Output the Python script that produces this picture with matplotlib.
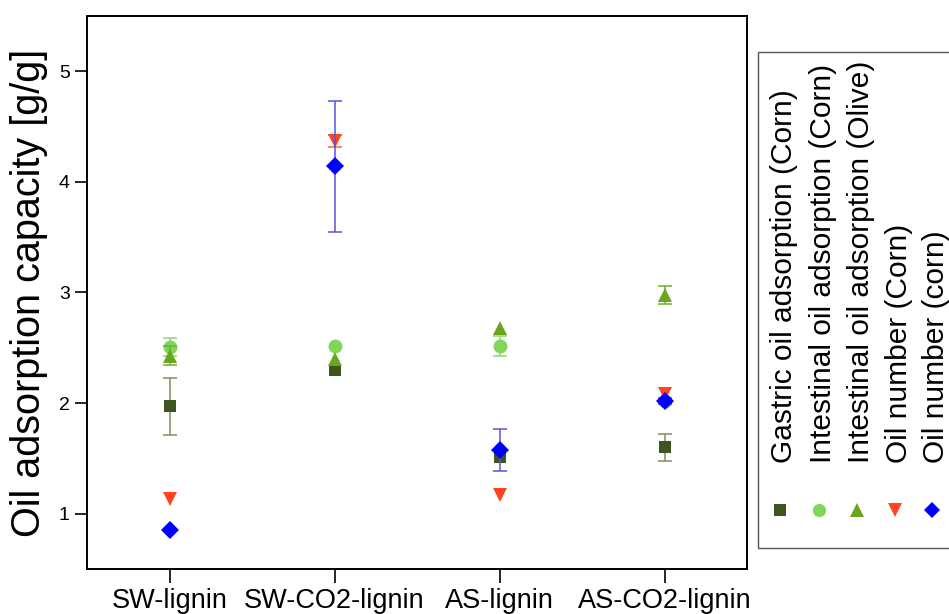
import matplotlib
matplotlib.use("Agg")
import matplotlib.pyplot as plt
from matplotlib.lines import Line2D
from matplotlib.patches import Rectangle
import numpy as np

plt.rcParams['font.family'] = ['Liberation Sans', 'DejaVu Sans']

categories = ["SW-lignin", "SW-CO2-lignin", "AS-lignin", "AS-CO2-lignin"]

labels = ["Gastric oil adsorption (Corn)",
          "Intestinal oil adsorption (Corn)",
          "Intestinal oil adsorption (Olive)",
          "Oil number (Corn)",
          "Oil number (corn)"]

gastric_corn = [1.97, 2.30, 1.51, 1.60]
gastric_corn_err = [0.26, 0.0, 0.0, 0.12]
intestinal_corn = [2.51, 2.52, 2.52, 2.02]
intestinal_corn_err = [0.08, 0.0, 0.09, 0.0]
intestinal_olive = [2.43, 2.40, 2.68, 2.98]
intestinal_olive_err = [0.09, 0.0, 0.0, 0.08]
oil_number_corn = [1.13, 4.37, 1.17, 2.08]
oil_number_corn_err = [0.0, 0.05, 0.0, 0.0]
oil_number_corn2 = [0.85, 4.14, 1.58, 2.02]
oil_number_corn2_err = [0.0, 0.59, 0.19, 0.03]

series = [gastric_corn, intestinal_corn, intestinal_olive, oil_number_corn, oil_number_corn2]
errors = [gastric_corn_err, intestinal_corn_err, intestinal_olive_err, oil_number_corn_err, oil_number_corn2_err]
markers = ["s", "o", "^", "v", "D"]
colors = ["#3f5421", "#7fd65a", "#68a61f", "#ff4422", "#0000ff"]
ecolors = ["#858a6a", "#8fd870", "#6fae2c", "#ff6644", "#5555dd"]
msizes = [9, 10, 10.5, 10.5, 9]

fig = plt.figure(figsize=(9.49, 6.14), dpi=100)
W, H = 949.0, 614.0
ax = fig.add_axes([87 / W, (H - 569) / H, 660 / W, 553 / H])

x = np.arange(1, len(categories) + 1)
for i, (vals, err) in enumerate(zip(series, errors)):
    e = np.array(err)
    m = e > 0
    if m.any():
        ax.errorbar(x[m], np.array(vals)[m], yerr=e[m], fmt='none', ecolor=ecolors[i],
                    elinewidth=1.1, capsize=5, capthick=1.1, zorder=3 + 2 * i)
    ax.plot(x, vals, linestyle='none', marker=markers[i], color=colors[i],
            markersize=msizes[i], markeredgewidth=0, zorder=4 + 2 * i)

ax.set_xlim(0.5, 4.5)
ax.set_ylim(0.5, 5.5)
ax.set_xticks(x)
ax.set_xticklabels(categories, fontsize=19.5)
ax.set_yticks([1, 2, 3, 4, 5])
ax.tick_params(axis='y', labelsize=14, direction='out', length=9, width=1.2)
ax.tick_params(axis='x', direction='out', length=10, width=1.2, pad=4)
ax.set_ylabel("Oil adsorption capacity [g/g]", fontsize=28.5, labelpad=8)
for s in ax.spines.values():
    s.set_linewidth(1.4)

# rotated legend drawn manually in figure coordinates
box = Rectangle((758 / W, (H - 548) / H), (960 - 758) / W, (548 - 52) / H,
                transform=fig.transFigure, fill=False, edgecolor="#555555", linewidth=1.0,
                clip_on=False)
fig.add_artist(box)
col_x = [780, 819, 857, 895, 932]
for i in range(len(labels)):
    fig.add_artist(Line2D([col_x[i] / W], [(H - 510) / H], marker=markers[i], color=colors[i],
                          markersize=msizes[i] * 0.95, markeredgewidth=0, linestyle='none',
                          transform=fig.transFigure))
    fig.text((col_x[i] + 4) / W, (H - 463) / H, labels[i], rotation=90, ha='left', va='center',
             fontsize=21.5, rotation_mode='anchor')

fig.savefig("out.png", dpi=100)
